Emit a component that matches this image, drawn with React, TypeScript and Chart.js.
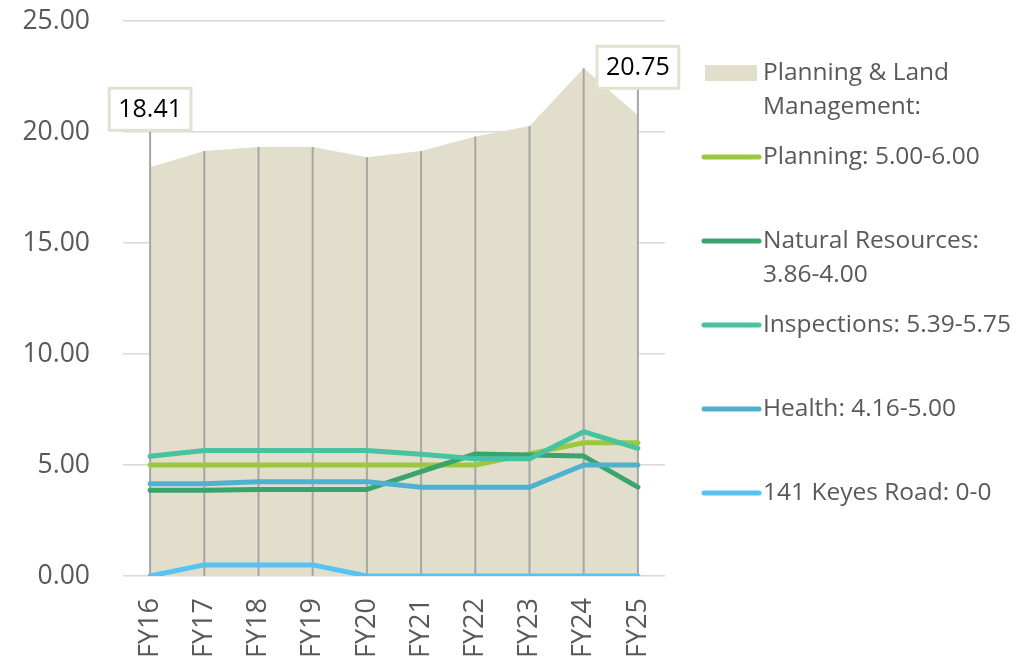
import React, { useEffect, useRef } from 'react';
import { Chart, registerables } from 'chart.js';

Chart.register(...registerables);

const categories = ['FY16', 'FY17', 'FY18', 'FY19', 'FY20', 'FY21', 'FY22', 'FY23', 'FY24', 'FY25'];
const totalValues = [18.41, 19.14, 19.32, 19.32, 18.86, 19.14, 19.8, 20.27, 22.87, 20.75];
const planningValues = [5.0, 5.0, 5.0, 5.0, 5.0, 5.0, 5.0, 5.5, 6.0, 6.0];
const naturalResourcesValues = [3.86, 3.86, 3.9, 3.9, 3.9, 4.7, 5.5, 5.45, 5.4, 4.0];
const inspectionsValues = [5.39, 5.65, 5.65, 5.65, 5.65, 5.48, 5.28, 5.28, 6.5, 5.75];
const healthValues = [4.16, 4.16, 4.25, 4.25, 4.25, 4.0, 4.0, 4.0, 5.0, 5.0];
const keyesValues = [0, 0.5, 0.5, 0.5, 0, 0, 0, 0, 0, 0];
const yTickValues = [0, 5, 10, 15, 20, 25];
const seriesNames = [
  'Planning & Land Management:',
  'Planning: 5.00-6.00',
  'Natural Resources: 3.86-4.00',
  'Inspections: 5.39-5.75',
  'Health: 4.16-5.00',
  '141 Keyes Road: 0-0',
];
const labeledIndexes = [0, 9];

const AREA_COLOR = '#E1DECB';
const LINE_COLORS = ['#9BC93B', '#38A46E', '#47C3A1', '#4DB2CF', '#56C3F3'];
const FONT = '"Open Sans", "Noto Sans", sans-serif';

const wrapText = (ctx: CanvasRenderingContext2D, text: string, maxWidth: number) => {
  const words = text.split(' ');
  const lines: string[] = [];
  let cur = '';
  for (const w of words) {
    const test = cur ? cur + ' ' + w : w;
    if (ctx.measureText(test).width > maxWidth && cur) {
      lines.push(cur);
      cur = w;
    } else {
      cur = test;
    }
  }
  if (cur) lines.push(cur);
  return lines;
};

const labelOffset = (i: number) => (i === 0 ? 37 : 27);

const dropLinePlugin = {
  id: 'dropLines',
  afterDatasetDraw(chart: any, args: any) {
    if (args.index !== 0) return;
    const { ctx, scales } = chart;
    const x = scales.x;
    const y = scales.y;
    const y0 = y.getPixelForValue(0);
    ctx.save();
    ctx.strokeStyle = '#A6A6A6';
    ctx.lineWidth = 2;
    totalValues.forEach((v, i) => {
      const px = x.getPixelForValue(i);
      let top = y.getPixelForValue(v);
      if (labeledIndexes.includes(i)) top = top - labelOffset(i);
      ctx.beginPath();
      ctx.moveTo(px, top);
      ctx.lineTo(px, y0);
      ctx.stroke();
    });
    ctx.restore();
  },
};

const labelBoxPlugin = {
  id: 'labelBoxes',
  afterDatasetsDraw(chart: any) {
    const { ctx, scales } = chart;
    ctx.save();
    ctx.font = `25px ${FONT}`;
    labeledIndexes.forEach((i) => {
      const px = scales.x.getPixelForValue(i);
      const py = scales.y.getPixelForValue(totalValues[i]);
      const text = totalValues[i].toFixed(2);
      const w = ctx.measureText(text).width + 18;
      const h = 42;
      const bottom = py - labelOffset(i);
      const left = px - w / 2;
      ctx.fillStyle = '#FFFFFF';
      ctx.fillRect(left, bottom - h, w, h);
      ctx.strokeStyle = '#E4E1D1';
      ctx.lineWidth = 3;
      ctx.strokeRect(left, bottom - h, w, h);
      ctx.fillStyle = '#000000';
      ctx.textAlign = 'center';
      ctx.textBaseline = 'middle';
      ctx.fillText(text, px, bottom - h / 2 + 1);
    });
    ctx.restore();
  },
};

const legendPlugin = {
  id: 'customLegend',
  afterDraw(chart: any) {
    const { ctx } = chart;
    ctx.save();
    ctx.font = `24.5px ${FONT}`;
    ctx.textBaseline = 'middle';
    ctx.textAlign = 'left';
    const swatchX = 704;
    const textX = 763;
    const firstY = 73;
    const step = 84;
    const lineH = 34;
    seriesNames.forEach((name, i) => {
      const cy = firstY + step * i;
      if (i === 0) {
        ctx.fillStyle = AREA_COLOR;
        ctx.fillRect(swatchX + 1, cy - 8, 52, 16);
      } else {
        ctx.strokeStyle = LINE_COLORS[i - 1];
        ctx.lineWidth = 5;
        ctx.lineCap = 'round';
        ctx.beginPath();
        ctx.moveTo(swatchX, cy);
        ctx.lineTo(swatchX + 55, cy);
        ctx.stroke();
      }
      ctx.fillStyle = '#595959';
      const lines = wrapText(ctx, name, 262);
      lines.forEach((ln, k) => ctx.fillText(ln, textX, cy + k * lineH));
    });
    ctx.restore();
  },
};

export default function App() {
  const canvasRef = useRef<HTMLCanvasElement | null>(null);

  useEffect(() => {
    if (!canvasRef.current) return;
    const lineSeries = [planningValues, naturalResourcesValues, inspectionsValues, healthValues, keyesValues];
    const chart = new Chart(canvasRef.current, {
      type: 'line',
      data: {
        labels: categories,
        datasets: [
          {
            label: seriesNames[0],
            data: totalValues,
            backgroundColor: AREA_COLOR,
            borderWidth: 0,
            borderColor: 'rgba(0,0,0,0)',
            fill: 'origin',
            pointRadius: 0,
            order: 10,
          },
          ...lineSeries.map((d, i) => ({
            label: seriesNames[i + 1],
            data: d,
            borderColor: LINE_COLORS[i],
            backgroundColor: LINE_COLORS[i],
            borderWidth: 5,
            borderCapStyle: 'round' as const,
            borderJoinStyle: 'round' as const,
            fill: false,
            pointRadius: 0,
            tension: 0,
            order: 5 - i,
          })),
        ],
      },
      options: {
        animation: false,
        responsive: true,
        maintainAspectRatio: false,
        layout: { padding: { top: 21, right: 370, left: 0, bottom: 0 } },
        plugins: {
          legend: { display: false },
          tooltip: { enabled: false },
        },
        scales: {
          x: {
            type: 'category',
            offset: true,
            grid: { display: false, drawTicks: false },
            border: { display: false },
            ticks: {
              minRotation: 90,
              maxRotation: 90,
              padding: 22,
              color: '#595959',
              font: { family: FONT, size: 27 },
            },
            afterFit: (s: any) => {
              s.height = 84;
              s.paddingLeft = 0;
              s.paddingRight = 0;
            },
          },
          y: {
            min: 0,
            max: 25,
            afterBuildTicks: (s: any) => {
              s.ticks = yTickValues.map((v) => ({ value: v }));
            },
            grid: { color: '#D9D9D9', lineWidth: 1.5, drawTicks: false },
            border: { display: false },
            ticks: {
              padding: 33,
              color: '#595959',
              font: { family: FONT, size: 26.5 },
              callback: (v: any) => Number(v).toFixed(2),
            },
            afterFit: (s: any) => {
              s.width = 123;
              s.paddingTop = 0;
              s.paddingBottom = 0;
            },
          },
        },
      },
      plugins: [dropLinePlugin, labelBoxPlugin, legendPlugin],
    });
    return () => chart.destroy();
  }, []);

  return (
    <div style={{ position: 'fixed', left: 0, top: 0, width: 1035, height: 660, background: '#FFFFFF' }}>
      <canvas ref={canvasRef} />
    </div>
  );
}
